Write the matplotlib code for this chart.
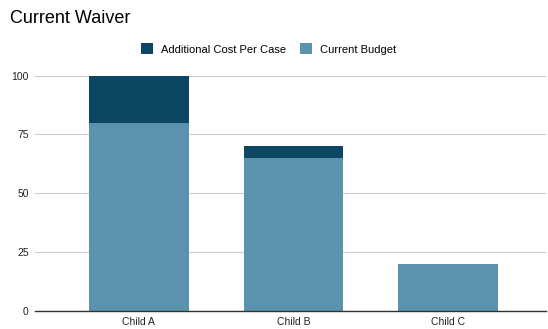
import matplotlib.pyplot as plt
import numpy as np

plt.rcParams["font.family"] = ["Liberation Sans", "DejaVu Sans"]

categories = ["Child A", "Child B", "Child C"]
current_budget = [80, 65, 20]
additional_cost = [20, 5, 0]

dark = "#0b4762"
light = "#5b93af"

fig = plt.figure(figsize=(5.48, 3.29), dpi=100)
ax = fig.add_axes([0.064, 0.0547, 0.932, 0.7158])

x = np.arange(len(categories))
w = 0.645
ax.bar(x, current_budget, w, color=light, label="Current Budget", zorder=2)
ax.bar(x, additional_cost, w, bottom=current_budget, color=dark,
       label="Additional Cost Per Case", zorder=2)

ax.set_xlim(-0.67, 2.63)
ax.set_ylim(0, 100)
ax.set_yticks([0, 25, 50, 75, 100])
ax.set_xticks(x)
ax.set_xticklabels(categories)
ax.tick_params(length=0, labelsize=7.5, colors="#222222")
ax.tick_params(axis="y", pad=4.5)
ax.tick_params(axis="x", pad=4)
ax.grid(axis="y", color="#cccccc", linewidth=0.8, zorder=0)
for s in ["top", "right", "left"]:
    ax.spines[s].set_visible(False)
ax.spines["bottom"].set_color("#333333")
ax.spines["bottom"].set_linewidth(1)
ax.spines["bottom"].set_zorder(3)

fig.text(0.018, 0.945, "Current Waiver", fontsize=13, va="center", ha="left",
         color="#000000")

handles, labels = ax.get_legend_handles_labels()
fig.legend(handles[::-1], labels[::-1], loc="center", ncol=2,
           bbox_to_anchor=(0.49, 0.851), frameon=False, fontsize=8,
           handlelength=1.1, handleheight=1.1, handletextpad=0.7,
           columnspacing=1.3)

plt.savefig("out.png", dpi=100)
